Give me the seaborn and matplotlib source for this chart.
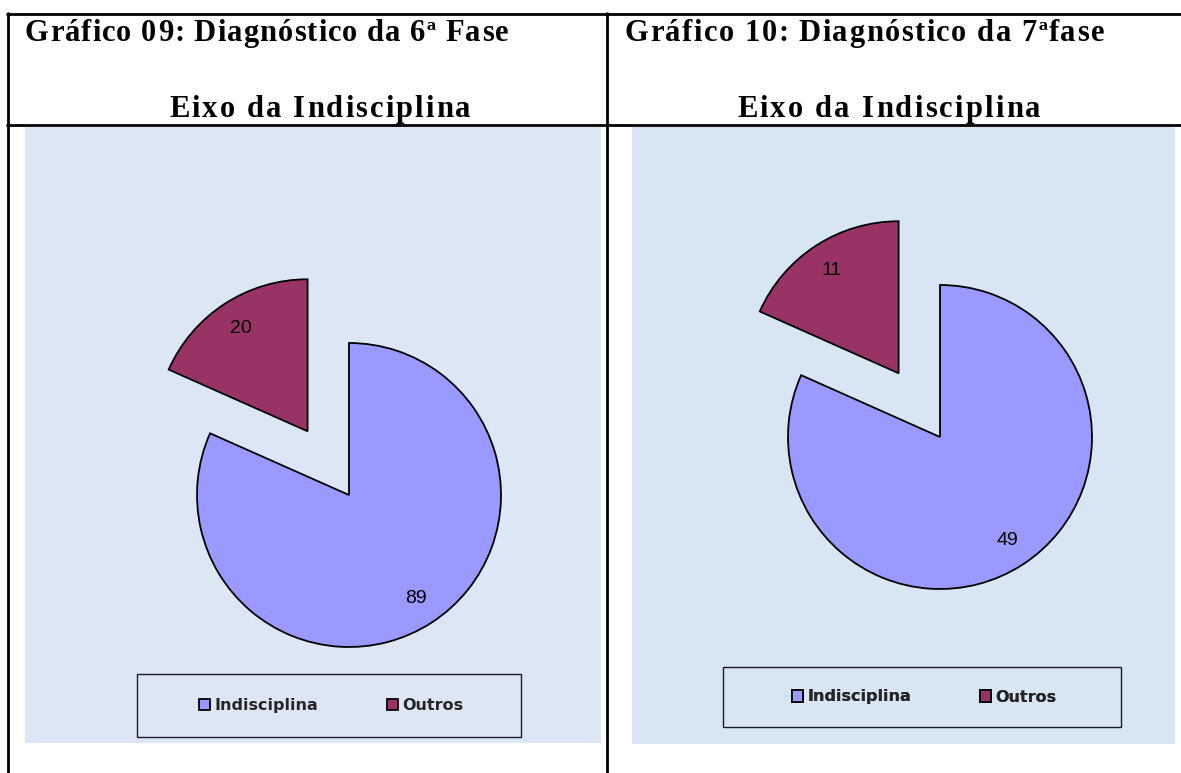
import matplotlib
matplotlib.use("Agg")
import matplotlib.pyplot as plt
import seaborn as sns
from matplotlib.patches import Rectangle
from matplotlib.font_manager import FontProperties, findfont
from matplotlib.ft2font import FT2Font

# ---- data ----
categories = ["Indisciplina", "Outros"]
values_6 = [89, 20]
values_7 = [49, 11]
titles_top = ["Gráfico 09: Diagnóstico da 6ª Fase", "Gráfico 10: Diagnóstico da 7ªfase"]
titles_sub = ["Eixo da Indisciplina", "Eixo da Indisciplina"]

sns.set_theme(style="white")
plt.rcParams["font.family"] = ["Liberation Sans", "DejaVu Sans"]
colors = sns.color_palette(["#9999FF", "#993366"])

W, H = 1181, 773
DPI = 100
fig = plt.figure(figsize=(W / DPI, H / DPI), dpi=DPI)
fig.patch.set_facecolor("white")
ax = fig.add_axes([0, 0, 1, 1])

def Y(py):
    return H - py

def spaced_text(x, y, s, width, size, ha="left"):
    fp = FontProperties(family="Liberation Serif", weight="bold", size=size)
    font = FT2Font(findfont(fp), hinting_factor=1)
    font.set_size(size, DPI)
    adv = []
    for ch in s:
        g = font.load_char(ord(ch))
        adv.append(g.linearHoriAdvance / 65536.0)
    natural = sum(adv[:-1])
    sp = (width - natural - adv[-1] * 0.9) / (len(s) - 1)
    x0 = x if ha == "left" else x - width / 2
    cur = x0
    for ch, a in zip(s, adv):
        ax.text(cur, y, ch, fontproperties=fp, ha="left", va="baseline",
                color="black", zorder=6)
        cur += a + sp

# chart backgrounds
bg_boxes = [(25, 127, 601, 743, "#dde6f5"), (632, 127, 1175, 744, "#d8e6f4")]
for x0, y0, x1, y1, c in bg_boxes:
    ax.add_patch(Rectangle((x0, Y(y1)), x1 - x0, y1 - y0, facecolor=c, edgecolor="none", zorder=0))

# table lines
lw = 2.0
ax.plot([7, W], [Y(14), Y(14)], color="black", lw=lw, zorder=5)
ax.plot([7, W], [Y(125), Y(125)], color="black", lw=lw, zorder=5)
ax.plot([7.5, 7.5], [Y(13), Y(H)], color="black", lw=lw, zorder=5)
ax.plot([607, 607], [Y(13), Y(H)], color="black", lw=lw, zorder=5)

# headers
title_x = [25, 625]
title_w = [482, 478]
sub_x = [319, 888]
sub_w = [300, 302]
for i in range(2):
    spaced_text(title_x[i], Y(41), titles_top[i], title_w[i], 22, ha="left")
    spaced_text(sub_x[i], Y(117), titles_sub[i], sub_w[i], 22, ha="center")

# pies
pie_specs = [(values_6, (349, 495)), (values_7, (940, 437))]
R = 152
handles = None
for vals, (cx, cy) in pie_specs:
    total = sum(vals)
    wedges, texts, autotexts = ax.pie(
        vals, colors=colors, startangle=90, counterclock=False,
        explode=[0, 0.5 * R], radius=R, center=(cx, Y(cy)),
        autopct=lambda p, t=total: f"{round(p * t / 100):d}", pctdistance=0.81,
        wedgeprops=dict(edgecolor="black", linewidth=1.3),
        textprops=dict(fontsize=14, color="black", family="Liberation Sans"),
    )
    for w in wedges:
        w.set_zorder(2)
    for t in autotexts:
        t.set_zorder(3)
    handles = wedges

# legends
leg_boxes = [(137, 674, 521, 737), (723, 667, 1121, 727)]
for (x0, y0, x1, y1) in leg_boxes:
    ax.add_patch(Rectangle((x0, Y(y1)), x1 - x0, y1 - y0, facecolor="none",
                           edgecolor="#1a1a2a", lw=1.0, zorder=4))
    leg = ax.legend(handles, categories, loc="center",
                    bbox_to_anchor=((x0 + x1) / 2 / W + 2 / W, 1 - (y0 + y1) / 2 / H),
                    bbox_transform=fig.transFigure, ncol=2, frameon=False,
                    handlelength=0.7, handleheight=0.7, handletextpad=0.25,
                    columnspacing=4.3, prop=dict(family="DejaVu Sans", weight="bold", size=11.5))
    ax.add_artist(leg)

ax.set_xlim(0, W)
ax.set_ylim(0, H)
ax.set_aspect("auto")
ax.axis("off")

fig.savefig("out.png", dpi=DPI, facecolor="white")
